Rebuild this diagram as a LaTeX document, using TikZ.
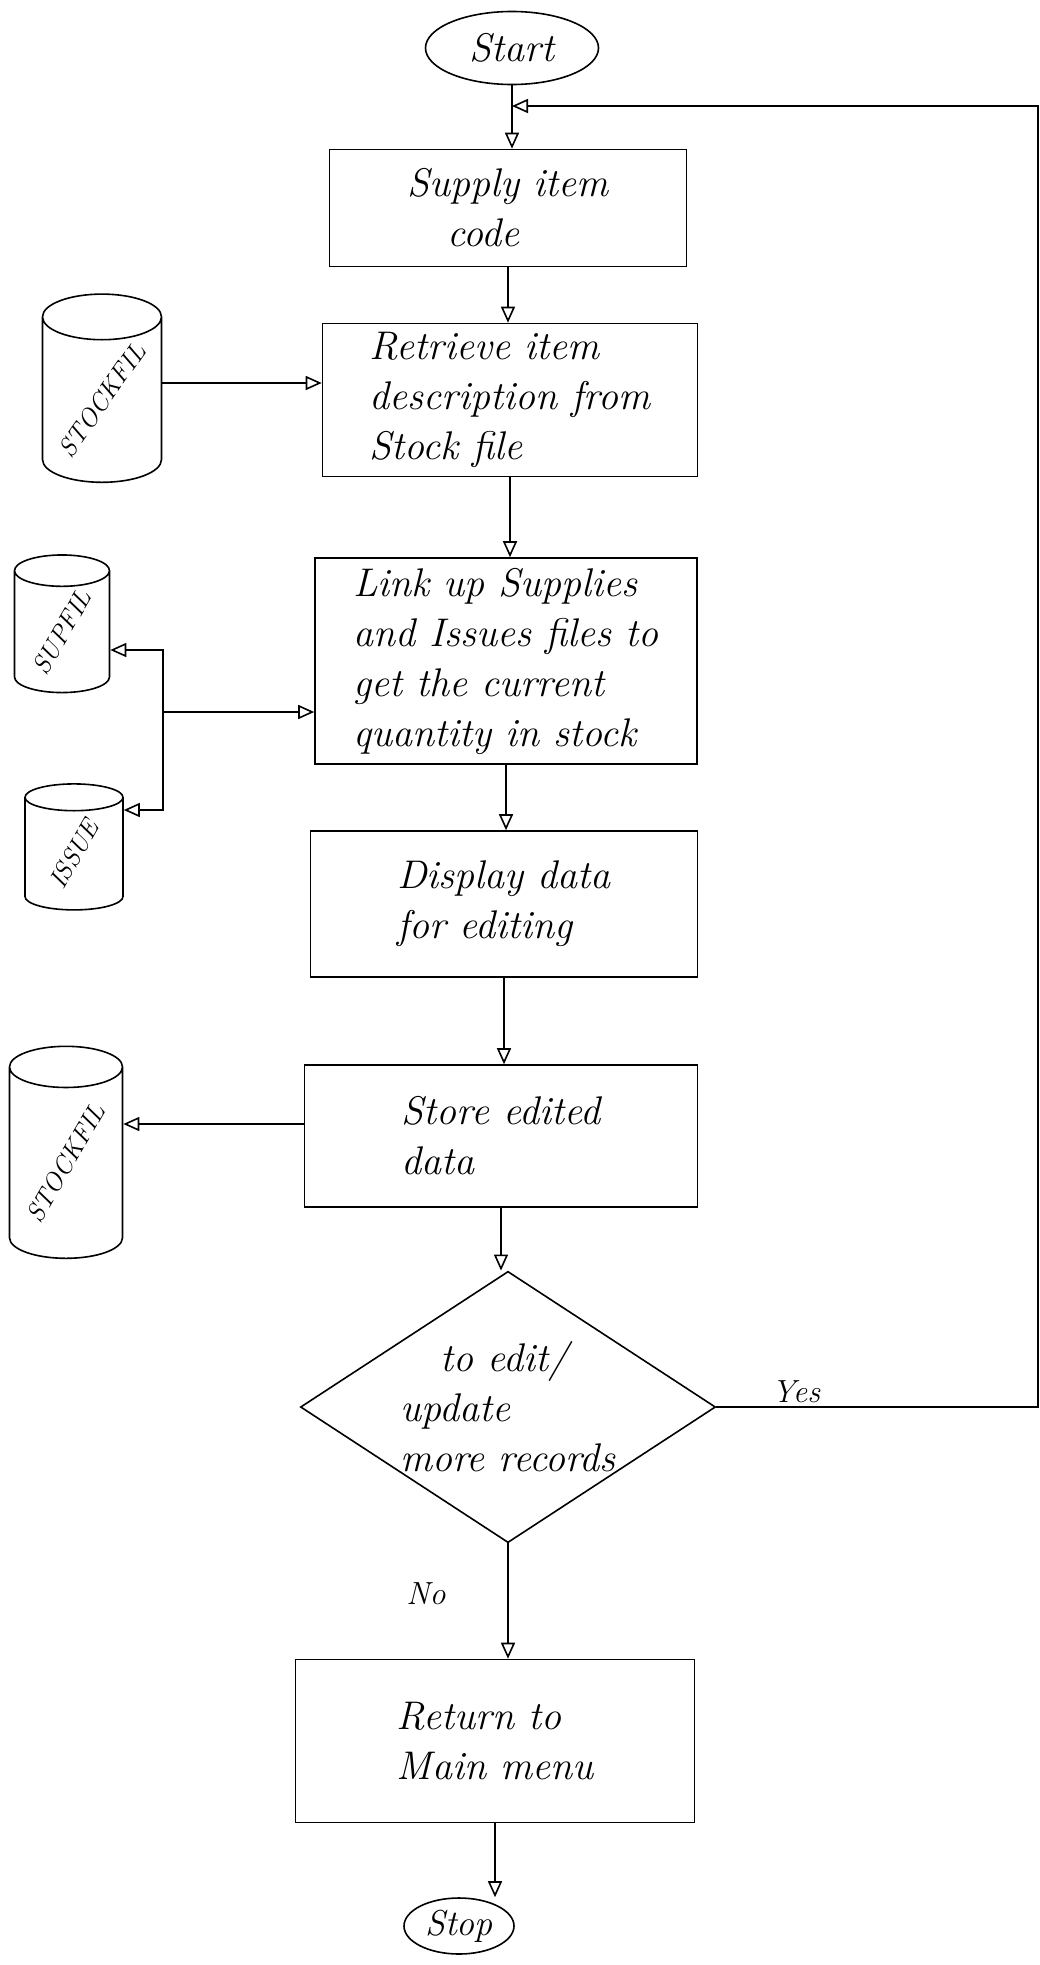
\documentclass[tikz,border=0pt]{standalone}
\usetikzlibrary{shapes.geometric,arrows.meta}
\begin{document}
\begin{tikzpicture}[x=1pt,y=-1pt,
  line width=1.6pt,
  hand/.style={font=\fontsize{40}{50}\selectfont\itshape},
  procbox/.style={draw,rectangle,hand,align=left,inner sep=6pt},
  term/.style={draw,ellipse,hand,inner sep=2pt},
  dbase/.style={draw,cylinder,shape border rotate=90,aspect=0.5,inner sep=0pt,font=\fontsize{26}{28}\selectfont\itshape},
  flow/.style={-{Triangle[open,length=16pt,width=14pt]}},
  lbl/.style={font=\fontsize{32}{36}\selectfont\itshape}
]
\useasboundingbox (0,0) rectangle (1040,1965);
\fill[white] (0,0) rectangle (1040,1965);

% terminals
\node[term,minimum width=173pt,minimum height=73pt] (start) at (512,48) {Start};
\node[term,minimum width=110pt,minimum height=56pt,font=\fontsize{36}{40}\selectfont\itshape] (stop) at (459,1926) {Stop};

% process boxes
\node[procbox,minimum width=357pt,minimum height=117pt] (supply) at (508,208) {Supply item\\\quad code};
\node[procbox,minimum width=375pt,minimum height=153pt] (retrieve) at (510,400) {Retrieve item\\description from\\Stock file};
\node[procbox,minimum width=382pt,minimum height=206pt] (link) at (506,661) {Link up Supplies\\and Issues files to\\get the current\\quantity in stock};
\node[procbox,minimum width=387pt,minimum height=146pt] (display) at (504,904) {Display data\\for editing};
\node[procbox,minimum width=393pt,minimum height=142pt] (store) at (501,1136) {Store edited\\data};
\node[draw,diamond,aspect=1.53,minimum width=408pt,minimum height=267pt,hand,align=left,inner sep=0pt] (dec) at (508,1407) {\quad to edit/\\update\\more records};
\node[procbox,minimum width=399pt,minimum height=163pt] (ret) at (495,1741) {Return to\\Main menu};

% data stores
\node[dbase,minimum width=119pt,minimum height=160pt] (stock1) at (102,400) {\rotatebox{55}{STOCKFIL}};
\node[dbase,minimum width=95pt,minimum height=120pt] (supfil) at (62,632) {\rotatebox{60}{SUPFIL}};
\node[dbase,minimum width=98pt,minimum height=126pt] (issue) at (74,854) {\rotatebox{60}{ISSUE}};
\node[dbase,minimum width=113pt,minimum height=212pt] (stock2) at (66,1163) {\rotatebox{60}{STOCKFIL}};

% main flow
\coordinate (join) at (start.south |- 0,106);
\draw[flow] (start.south) -- (start.south |- supply.north);
\draw[flow] (supply.south) -- (supply.south |- retrieve.north);
\draw[flow] (retrieve.south) -- (retrieve.south |- link.north);
\draw[flow] (link.south) -- (link.south |- display.north);
\draw[flow] (display.south) -- (display.south |- store.north);
\draw[flow] (store.south) -- (store.south |- dec.north);
\draw[flow] (dec.south) -- (dec.south |- ret.north);
\draw[flow] (ret.south) -- (ret.south |- stop.north);

% loop back
\coordinate (loopc) at (1038,1407);
\draw[flow] (dec.east) -- (loopc) -- (loopc |- join) -- (join);
\node[lbl] (yes) at (796,1392) {Yes};
\node[lbl] (no) at (426,1594) {No};

% file links
\draw[flow] (stock1.east |- 0,383) -- (retrieve.west |- 0,383);
\coordinate (jn) at (163,712);
\draw[flow] (jn) -- (link.west |- jn);
\draw[flow] (jn) -- (jn |- 0,650) -- (supfil.east |- 0,650);
\draw[flow] (jn) -- (jn |- 0,810) -- (issue.east |- 0,810);
\draw[flow] (store.west |- 0,1124) -- (stock2.east |- 0,1124);
\end{tikzpicture}
\end{document}
